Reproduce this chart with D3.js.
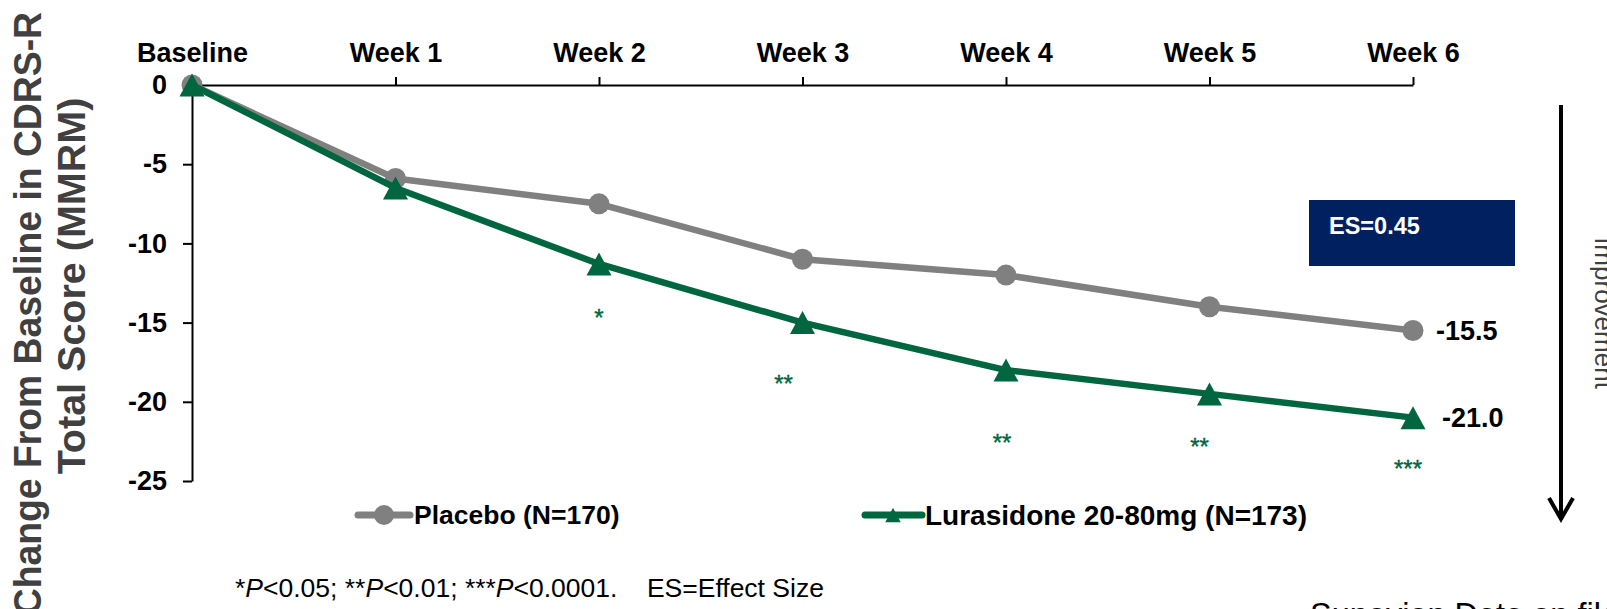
<!DOCTYPE html>
<html>
<head>
<meta charset="utf-8">
<script src="https://cdn.jsdelivr.net/npm/d3@7"></script>
<style>
  html, body { margin: 0; padding: 0; background: #fff; overflow: hidden; }
  svg { display: block; font-family: Arial, "Liberation Sans", sans-serif; }
</style>
</head>
<body>
<svg id="chart" width="1607" height="609"></svg>
<script>
// Visits along the study timeline
const visits = ["Baseline", "Week 1", "Week 2", "Week 3", "Week 4", "Week 5", "Week 6"];

// LS mean change from baseline in CDRS-R total score (MMRM)
const placebo    = [0, -5.9, -7.5, -11.0, -12.0, -14.0, -15.5];
const lurasidone = [0, -6.5, -11.3, -15.0, -18.0, -19.5, -21.0];

// Significance markers versus placebo at each visit
const significance = ["", "", "*", "**", "**", "**", "***"];

const seriesNames = ["Placebo (N=170)", "Lurasidone 20-80mg (N=173)"];
const yTicks = [0, -5, -10, -15, -20, -25];
const effectSizeLabel = "ES=0.45";

const GRAY = "#808080";
const GREEN = "#00663f";
const NAVY = "#002060";
const FONT = 'Arial, "Liberation Sans", sans-serif';

const svg = d3.select("#chart");

const x = d3.scalePoint().domain(visits).range([192, 1413]);
const y = d3.scaleLinear().domain([0, -25]).range([85, 481]);

// Axes: visits along the top at zero, scores down the left
const xAxis = svg.append("g")
  .attr("transform", `translate(0,${y(0)})`)
  .call(d3.axisTop(x).tickSize(8).tickSizeOuter(0).tickPadding(15));
const yAxis = svg.append("g")
  .attr("transform", `translate(${x(visits[0])},0)`)
  .call(d3.axisLeft(y).tickValues(yTicks).tickFormat(d => String(d))
        .tickSize(9).tickSizeOuter(0).tickPadding(16));

[xAxis, yAxis].forEach(g => {
  g.select(".domain").attr("stroke", "#000").attr("stroke-width", 2);
  g.selectAll(".tick line").attr("stroke", "#000").attr("stroke-width", 2);
  g.selectAll(".tick text")
    .attr("fill", "#000")
    .style("font-family", FONT)
    .style("font-size", "27px")
    .style("font-weight", "bold");
});

// Triangle centred on its bounding box
const boxTriangle = {
  draw(context, size) {
    const w = Math.sqrt(size);
    const h = w * 0.92;
    context.moveTo(0, -h / 2);
    context.lineTo(w / 2, h / 2);
    context.lineTo(-w / 2, h / 2);
    context.closePath();
  }
};

const line = d3.line().x((d, i) => x(visits[i])).y(d => y(d));

// Placebo series
svg.append("path").datum(placebo)
  .attr("d", line).attr("fill", "none")
  .attr("stroke", GRAY).attr("stroke-width", 6.5).attr("stroke-linejoin", "round");
svg.append("g").selectAll("circle").data(placebo).join("circle")
  .attr("cx", (d, i) => x(visits[i])).attr("cy", d => y(d))
  .attr("r", 10.5).attr("fill", GRAY);

// Lurasidone series
svg.append("path").datum(lurasidone)
  .attr("d", line).attr("fill", "none")
  .attr("stroke", GREEN).attr("stroke-width", 6.5).attr("stroke-linejoin", "round");
svg.append("g").selectAll("path").data(lurasidone).join("path")
  .attr("transform", (d, i) => `translate(${x(visits[i])},${y(d)})`)
  .attr("d", d3.symbol().type(boxTriangle).size(625))
  .attr("fill", GREEN);

// Significance stars beneath the active-treatment points
const starShift = [[0, 0], [0, 0], [0, 48], [-19, 55], [-4, 67], [-10, 47], [-5, 45]];
svg.append("g").selectAll("text").data(significance).join("text")
  .attr("x", (d, i) => x(visits[i]) + starShift[i][0])
  .attr("y", (d, i) => y(lurasidone[i]) + starShift[i][1] + 14)
  .attr("text-anchor", "middle")
  .attr("fill", GREEN)
  .attr("stroke", GREEN).attr("stroke-width", 0.4)
  .style("font-family", FONT).style("font-size", "24px")
  .text(d => d);

// End-of-study values
const last = visits.length - 1;
[[placebo, 23], [lurasidone, 29]].forEach(([vals, dx]) => {
  svg.append("text")
    .attr("x", x(visits[last]) + dx)
    .attr("y", y(vals[last]))
    .attr("dy", "0.35em")
    .attr("fill", "#000")
    .style("font-family", FONT).style("font-size", "27px").style("font-weight", "bold")
    .text(vals[last].toFixed(1));
});

// Effect size box
svg.append("rect").attr("x", 1309).attr("y", 200).attr("width", 206).attr("height", 66).attr("fill", NAVY);
svg.append("text").attr("x", 1329).attr("y", 234)
  .attr("fill", "#fff")
  .style("font-family", FONT).style("font-size", "23.5px").style("font-weight", "bold")
  .text(effectSizeLabel);

// Y-axis title (two lines)
svg.append("text")
  .attr("transform", "translate(41,12) rotate(-90) scale(0.945,1)")
  .attr("text-anchor", "end")
  .attr("fill", "#404040")
  .style("font-family", FONT).style("font-size", "39.5px").style("font-weight", "bold")
  .text("Change From Baseline in CDRS-R");
svg.append("text")
  .attr("transform", "translate(85,286) rotate(-90)")
  .attr("text-anchor", "middle")
  .attr("fill", "#404040")
  .style("font-family", FONT).style("font-size", "39.5px").style("font-weight", "bold")
  .text("Total Score (MMRM)");

// Legend
const legend = svg.append("g").attr("transform", "translate(0,515)");
legend.append("line").attr("x1", 358).attr("x2", 410).attr("y1", 0).attr("y2", 0)
  .attr("stroke", GRAY).attr("stroke-width", 7).attr("stroke-linecap", "round");
legend.append("circle").attr("cx", 384).attr("cy", 0).attr("r", 10).attr("fill", GRAY);
legend.append("text").attr("x", 414).attr("y", 0).attr("dy", "0.35em")
  .attr("fill", "#000")
  .style("font-family", FONT).style("font-size", "26.5px").style("font-weight", "bold")
  .text(seriesNames[0]);
legend.append("line").attr("x1", 865).attr("x2", 922).attr("y1", 0).attr("y2", 0)
  .attr("stroke", GREEN).attr("stroke-width", 7).attr("stroke-linecap", "round");
legend.append("path").attr("transform", "translate(893,0)")
  .attr("d", d3.symbol().type(boxTriangle).size(240)).attr("fill", GREEN);
legend.append("text").attr("x", 925).attr("y", 0).attr("dy", "0.35em")
  .attr("fill", "#000")
  .style("font-family", FONT).style("font-size", "28px").style("font-weight", "bold")
  .text(seriesNames[1]);

// Footnote
const note = svg.append("text").attr("x", 235).attr("y", 597)
  .attr("fill", "#000")
  .style("font-family", FONT).style("font-size", "26.5px");
const noteParts = [
  ["*", ""], ["P", "it"], ["<0.05; ", ""],
  ["**", ""], ["P", "it"], ["<0.01; ", ""],
  ["***", ""], ["P", "it"], ["<0.0001.\u00a0\u00a0\u00a0\u00a0ES=Effect Size", ""]
];
noteParts.forEach(([t, kind]) => {
  const ts = note.append("tspan").text(t);
  if (kind === "it") ts.style("font-style", "italic");
});

// Improvement direction arrow
svg.append("line").attr("x1", 1561).attr("x2", 1561).attr("y1", 105).attr("y2", 518)
  .attr("stroke", "#000").attr("stroke-width", 4);
svg.append("polyline").attr("points", "1549,498 1561,519 1573,498")
  .attr("fill", "none").attr("stroke", "#000").attr("stroke-width", 4)
  .attr("stroke-linejoin", "miter");
svg.append("text")
  .attr("transform", "translate(1595,313) rotate(90)")
  .attr("text-anchor", "middle")
  .attr("fill", "#404040")
  .style("font-family", FONT).style("font-size", "26px")
  .text("Improvement");

// Source line
svg.append("text").attr("x", 1310).attr("y", 626)
  .attr("fill", "#000")
  .style("font-family", FONT).style("font-size", "32.5px")
  .text("Sunovion Data on file");
</script>
</body>
</html>
